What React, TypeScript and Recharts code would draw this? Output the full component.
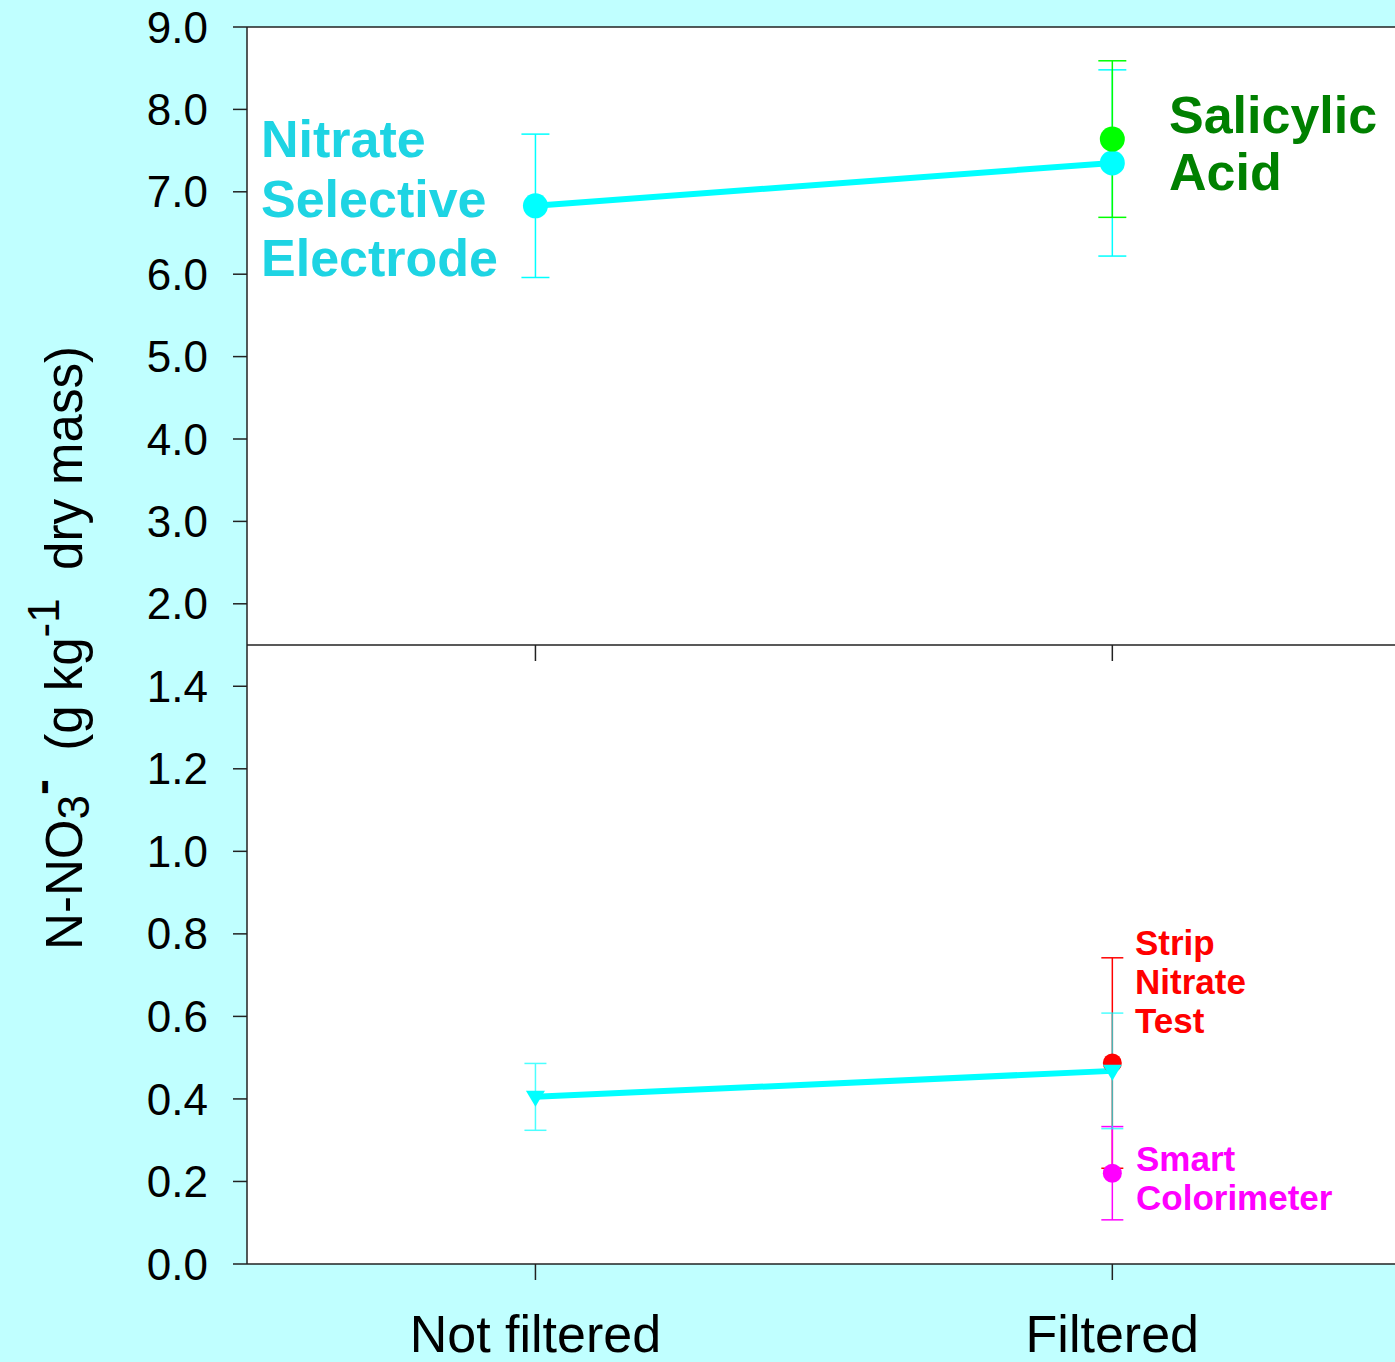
import React from "react";
import { ComposedChart, Line, XAxis, YAxis, ErrorBar, ReferenceLine } from "recharts";

const categories = ["Not filtered", "Filtered"];
const upperTicks = [2, 3, 4, 5, 6, 7, 8, 9];
const lowerTicks = [0, 0.2, 0.4, 0.6, 0.8, 1.0, 1.2, 1.4];

// upper panel: nitrate selective electrode vs salicylic acid
const electrodeUpper = [6.83, 7.35];
const electrodeUpperErr = [0.87, 1.13];
const salicylicAt = [1];
const salicylic = [7.64];
const salicylicErr = [0.95];

// lower panel: electrode vs strip test and smart colorimeter
const electrodeLower = [0.405, 0.468];
const electrodeLowerErr = [0.081, 0.14];
const stripAt = [1];
const strip = [0.487];
const stripErr = [0.255];
const smartAt = [1];
const smart = [0.22];
const smartErr = [0.113];

const FONT = "Arial, 'Liberation Sans', sans-serif";
const AXIS = "#222";
const X_DOMAIN: [number, number] = [-0.5, 1.49];

const toRows = (xs: number[], ys: number[], errs: number[]) =>
  ys.map((y, i) => ({ x: xs[i], y, err: errs[i] }));

const upperElectrodeRows = toRows([0, 1], electrodeUpper, electrodeUpperErr);
const salicylicRows = toRows(salicylicAt, salicylic, salicylicErr);
const lowerElectrodeRows = toRows([0, 1], electrodeLower, electrodeLowerErr);
const stripRows = toRows(stripAt, strip, stripErr);
const smartRows = toRows(smartAt, smart, smartErr);

const roundDot = (r: number, fill: string) => (props: any) => {
  const { cx, cy, index } = props;
  return <circle key={`c${index}`} cx={cx} cy={cy} r={r} fill={fill} stroke="none" />;
};

const triangleDot = (fill: string) => (props: any) => {
  const { cx, cy, index } = props;
  return (
    <path
      key={`t${index}`}
      d={`M${cx - 9.5},${cy - 6} L${cx + 9.5},${cy - 6} L${cx},${cy + 10} Z`}
      fill={fill}
      stroke="none"
    />
  );
};

const yTick = { fontSize: 44, fill: "#000", fontFamily: FONT };
const fmt1 = (v: number) => v.toFixed(1);

export default function App() {
  return (
    <div
      style={{
        position: "absolute",
        left: 0,
        top: 0,
        width: 1395,
        height: 1362,
        background: "#c0ffff",
        overflow: "hidden",
        fontFamily: FONT,
      }}
    >
      {/* white plotting field shared by both panels */}
      <div
        style={{ position: "absolute", left: 247, top: 27, width: 1148, height: 1237, background: "#fff" }}
      />

      <div style={{ position: "absolute", left: 0, top: 0 }}>
        <ComposedChart width={1395} height={661} margin={{ top: 27, right: 0, bottom: 0, left: 0 }}>
          <XAxis
            type="number"
            dataKey="x"
            domain={X_DOMAIN}
            ticks={[0, 1]}
            allowDataOverflow
            height={16}
            tickSize={16}
            tickFormatter={() => ""}
            stroke={AXIS}
            strokeWidth={1.5}
          />
          <YAxis
            type="number"
            domain={[1.5, 9]}
            ticks={upperTicks}
            allowDataOverflow
            width={247}
            tickSize={14}
            tickMargin={25}
            tickFormatter={fmt1}
            tick={yTick}
            stroke={AXIS}
            strokeWidth={1.5}
          />
          <ReferenceLine y={9} stroke={AXIS} strokeWidth={1.5} />
          <Line
            data={upperElectrodeRows}
            dataKey="y"
            stroke="#00ffff"
            strokeWidth={6}
            dot={roundDot(12.5, "#00ffff")}
            activeDot={false}
            isAnimationActive={false}
          >
            <ErrorBar dataKey="err" direction="y" width={14} stroke="#00ffff" strokeWidth={1.5} />
          </Line>
          <Line
            data={salicylicRows}
            dataKey="y"
            stroke="#00ff00"
            strokeWidth={0}
            dot={roundDot(12.5, "#00ff00")}
            activeDot={false}
            isAnimationActive={false}
          >
            <ErrorBar dataKey="err" direction="y" width={14} stroke="#00ff00" strokeWidth={1.5} />
          </Line>
        </ComposedChart>
      </div>

      <div style={{ position: "absolute", left: 0, top: 645 }}>
        <ComposedChart width={1395} height={717} margin={{ top: 0, right: 0, bottom: 0, left: 0 }}>
          <XAxis
            type="number"
            dataKey="x"
            domain={X_DOMAIN}
            ticks={[0, 1]}
            allowDataOverflow
            height={98}
            tickSize={16}
            tickMargin={35}
            tickFormatter={(v: number) => categories[v]}
            tick={{ fontSize: 52, fill: "#000", fontFamily: FONT }}
            stroke={AXIS}
            strokeWidth={1.5}
          />
          <YAxis
            type="number"
            domain={[0, 1.5]}
            ticks={lowerTicks}
            allowDataOverflow
            width={247}
            tickSize={14}
            tickMargin={25}
            tickFormatter={fmt1}
            tick={yTick}
            stroke={AXIS}
            strokeWidth={1.5}
          />
          <Line
            data={stripRows}
            dataKey="y"
            stroke="#ff0000"
            strokeWidth={0}
            dot={roundDot(9.5, "#ff0000")}
            activeDot={false}
            isAnimationActive={false}
          >
            <ErrorBar dataKey="err" direction="y" width={11} stroke="#ff0000" strokeWidth={1.5} />
          </Line>
          <Line
            data={smartRows}
            dataKey="y"
            stroke="#ff00ff"
            strokeWidth={0}
            dot={roundDot(9.5, "#ff00ff")}
            activeDot={false}
            isAnimationActive={false}
          >
            <ErrorBar dataKey="err" direction="y" width={11} stroke="#ff00ff" strokeWidth={1.5} />
          </Line>
          <Line
            data={lowerElectrodeRows}
            dataKey="y"
            stroke="#00ffff"
            strokeWidth={6}
            dot={triangleDot("#00ffff")}
            activeDot={false}
            isAnimationActive={false}
          >
            <ErrorBar dataKey="err" direction="y" width={11} stroke="#00ffff" strokeWidth={1.5} opacity={0.7} />
          </Line>
        </ComposedChart>
      </div>

      {/* axis title and series annotations */}
      <svg
        width={1395}
        height={1362}
        style={{ position: "absolute", left: 0, top: 0, pointerEvents: "none" }}
        fontFamily={FONT}
      >
        <text transform="translate(82,648) rotate(-90)" textAnchor="middle" fontSize={51} fill="#000">
          N-NO
          <tspan dy={7} fontSize={44}>3</tspan>
          <tspan dy={-31} fontSize={48} fontWeight="bold">-</tspan>
          <tspan dy={24}>{"\u00a0\u00a0(g kg"}</tspan>
          <tspan dy={-23} fontSize={44}>-1</tspan>
          <tspan dy={23}>{"\u00a0\u00a0dry mass)"}</tspan>
        </text>

        <g fontSize={52} fontWeight="bold" fill="#1ed4e3">
          <text x={261} y={157}>Nitrate</text>
          <text x={261} y={217}>Selective</text>
          <text x={261} y={276}>Electrode</text>
        </g>
        <g fontSize={52} fontWeight="bold" fill="#008000">
          <text x={1169} y={133}>Salicylic</text>
          <text x={1169} y={190}>Acid</text>
        </g>
        <g fontSize={35} fontWeight="bold" fill="#ff0000">
          <text x={1135} y={955}>Strip</text>
          <text x={1135} y={994}>Nitrate</text>
          <text x={1135} y={1033}>Test</text>
        </g>
        <g fontSize={35} fontWeight="bold" fill="#ff00ff">
          <text x={1136} y={1171}>Smart</text>
          <text x={1136} y={1210}>Colorimeter</text>
        </g>
      </svg>
    </div>
  );
}
